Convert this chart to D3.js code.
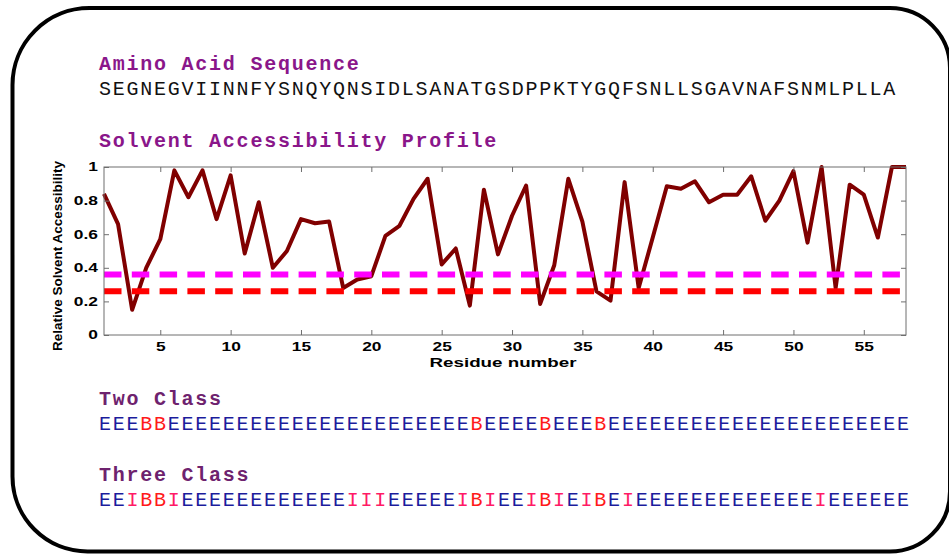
<!DOCTYPE html>
<html>
<head>
<meta charset="utf-8">
<script src="https://cdn.jsdelivr.net/npm/d3@7"></script>
<style>
  body { margin: 0; background: #fff; }
  svg { display: block; }
</style>
</head>
<body>
<div id="chart"></div>
<script>
// chart data
var sequence = "SEGNEGVIINNFYSNQYQNSIDLSANATGSDPPKTYGQFSNLLSGAVNAFSNMLPLLA";
var rsa = [0.84, 0.66, 0.15, 0.40, 0.57, 0.98, 0.82, 0.98, 0.69, 0.95,
           0.485, 0.79, 0.40, 0.50, 0.69, 0.665, 0.675, 0.28, 0.33, 0.35,
           0.59, 0.65, 0.81, 0.93, 0.42, 0.515, 0.175, 0.865, 0.48, 0.71,
           0.89, 0.185, 0.415, 0.93, 0.675, 0.26, 0.205, 0.91, 0.28, 0.58,
           0.885, 0.87, 0.915, 0.79, 0.835, 0.835, 0.945, 0.68, 0.80, 0.975,
           0.55, 1.0, 0.28, 0.895, 0.835, 0.58, 1.0, 1.0];
var thresholds = [0.36, 0.26];
var thresholdColors = ["#ff00ff", "#ff0000"];
var xTicks = [5, 10, 15, 20, 25, 30, 35, 40, 45, 50, 55];
var yTicks = [0, 0.2, 0.4, 0.6, 0.8, 1];
var twoClass = "EEEBBEEEEEEEEEEEEEEEEEEEEEEBEEEEBEEEBEEEEEEEEEEEEEEEEEEEEEE";
var threeClass = "EEIBBIEEEEEEEEEEEEIIIEEEEEIBIEEIBIEIBEIEEEEEEEEEEEEEIEEEEEE";
var classColor = { E: "#1c1c9c", B: "#ff1a1a", I: "#ff1a66" };

var width = 949, height = 556;
var svg = d3.select("#chart").append("svg")
    .attr("width", width)
    .attr("height", height);

// rounded frame (corners are not all the same)
var L = 12.5, T = 8, R = 950, B = 551.5;
var rTL = 77, rTR = 60, rBR = 60, rBL = 75;
var p = d3.path();
p.moveTo(L + rTL, T);
p.lineTo(R - rTR, T);
p.arcTo(R, T, R, T + rTR, rTR);
p.lineTo(R, B - rBR);
p.arcTo(R, B, R - rBR, B, rBR);
p.lineTo(L + rBL, B);
p.arcTo(L, B, L, B - rBL, rBL);
p.lineTo(L, T + rTL);
p.arcTo(L, T, L + rTL, T, rTL);
p.closePath();
svg.append("path")
    .attr("d", p.toString())
    .attr("fill", "none")
    .attr("stroke", "#000")
    .attr("stroke-width", 4);

// text rows
var mono = "'Liberation Mono', 'Courier New', monospace";
var x0 = 99, step = 13.76;

function title(txt, y, color) {
  svg.append("text")
      .attr("x", x0)
      .attr("y", y)
      .attr("font-family", mono)
      .attr("font-size", 20)
      .attr("font-weight", "bold")
      .attr("letter-spacing", step - 12)
      .attr("fill", color)
      .text(txt);
}
function letters(str, y, colorFn) {
  svg.append("g").selectAll("text")
      .data(str.split(""))
      .enter().append("text")
      .attr("x", function(d, i) { return x0 + i * step; })
      .attr("y", y)
      .attr("font-family", mono)
      .attr("font-size", 20)
      .attr("fill", colorFn)
      .text(function(d) { return d; });
}

title("Amino Acid Sequence", 69.5, "#8a168a");
letters(sequence, 95, function() { return "#111"; });
title("Solvent Accessibility Profile", 146.5, "#8a168a");
title("Two Class", 404.5, "#6e226e");
letters(twoClass, 430, function(d) { return classColor[d]; });
title("Three Class", 480.5, "#6e226e");
letters(threeClass, 506, function(d) { return classColor[d]; });

// the plot
var x = d3.scaleLinear().domain([1, sequence.length]).range([104, 906]);
var y = d3.scaleLinear().domain([0, 1]).range([335, 167]);
var sans = "'Liberation Sans', Arial, sans-serif";
var stretch = 1.45;

var plot = svg.append("g");

plot.append("path")
    .datum(rsa)
    .attr("fill", "none")
    .attr("stroke", "#800000")
    .attr("stroke-width", 4)
    .attr("stroke-linejoin", "round")
    .attr("d", d3.line()
        .x(function(d, i) { return x(i + 1); })
        .y(function(d) { return y(d); }));

plot.selectAll(".thr")
    .data(thresholds)
    .enter().append("line")
    .attr("class", "thr")
    .attr("x1", x(1))
    .attr("x2", x(sequence.length))
    .attr("y1", function(d) { return y(d); })
    .attr("y2", function(d) { return y(d); })
    .attr("stroke", function(d, i) { return thresholdColors[i]; })
    .attr("stroke-width", 6)
    .attr("stroke-dasharray", "17.5,10.3");

plot.append("rect")
    .attr("x", x.range()[0])
    .attr("y", y.range()[1])
    .attr("width", x.range()[1] - x.range()[0])
    .attr("height", y.range()[0] - y.range()[1])
    .attr("fill", "none")
    .attr("stroke", "#6e6e6e")
    .attr("stroke-width", 1);

function styleAxis(g) {
  g.select(".domain").remove();
  g.selectAll(".tick line").attr("stroke", "#6e6e6e");
  g.selectAll(".tick text")
      .attr("fill", "#000")
      .attr("font-family", sans)
      .attr("font-weight", "bold")
      .attr("font-size", 12);
}

plot.append("g")
    .attr("transform", "translate(0," + y.range()[0] + ")")
    .call(d3.axisBottom(x).tickValues(xTicks).tickSize(-5).tickPadding(7))
    .call(styleAxis)
    .selectAll(".tick text").attr("transform", "scale(" + stretch + ",1)");

plot.append("g")
    .attr("transform", "translate(0," + y.range()[1] + ")")
    .call(d3.axisTop(x).tickValues(xTicks).tickSize(-5).tickFormat(""))
    .call(styleAxis);

plot.append("g")
    .attr("transform", "translate(" + x.range()[0] + ",0)")
    .call(d3.axisLeft(y).tickValues(yTicks).tickSize(-5).tickFormat(function(d) { return d; }))
    .call(styleAxis)
    .selectAll(".tick text")
    .attr("x", -6 / stretch)
    .attr("transform", "scale(" + stretch + ",1)");

plot.append("g")
    .attr("transform", "translate(" + x.range()[1] + ",0)")
    .call(d3.axisRight(y).tickValues(yTicks).tickSize(-5).tickFormat(""))
    .call(styleAxis);

plot.append("text")
    .attr("x", 503)
    .attr("y", 366.5)
    .attr("text-anchor", "middle")
    .attr("font-family", sans)
    .attr("font-weight", "bold")
    .attr("font-size", 12.5)
    .attr("textLength", 147)
    .attr("lengthAdjust", "spacingAndGlyphs")
    .text("Residue number");

plot.append("text")
    .attr("transform", "translate(62,256) rotate(-90)")
    .attr("text-anchor", "middle")
    .attr("font-family", sans)
    .attr("font-weight", "bold")
    .attr("font-size", 13)
    .attr("textLength", 190)
    .attr("lengthAdjust", "spacingAndGlyphs")
    .text("Relative Solvent Accessibility");
</script>
</body>
</html>
